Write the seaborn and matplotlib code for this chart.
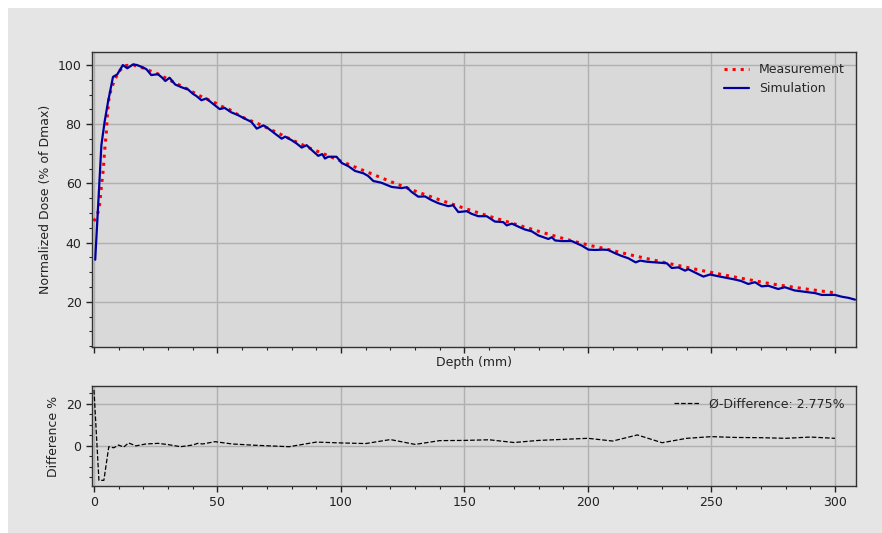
import matplotlib
matplotlib.use("Agg")
import matplotlib.pyplot as plt
from matplotlib.patches import Rectangle
from matplotlib.ticker import AutoMinorLocator
import seaborn as sns
import pandas as pd

# ---- data ----
meas_depth = [0, 1.6, 2.3, 3, 3.8, 4.3, 5, 5.4, 6.1, 7, 8.4, 10, 12.4, 16, 19.5, 22.8,
              25.9, 29.3, 32.4, 35.6, 38.7, 41.8, 45, 48.2, 51.5, 54.7, 57.9, 61.3,
              67.5, 74, 80.4, 86.8, 93.5, 100, 106.6, 113.1, 119.8, 126.6, 130,
              139.7, 149.9, 159.9, 170.2, 180.4, 190.7, 200.8, 204.4, 218.4, 232.3,
              246.3, 260.3, 274.4, 288.3, 300]
meas_dose = [47.2, 50.1, 53, 59, 65, 71, 77, 83, 89, 92, 95, 97.7, 99.8, 100, 99.1, 98,
             97, 95.5, 94.1, 92.8, 91.5, 90, 88.7, 87.6, 86.1, 85, 83.4, 81.9,
             79.8, 77.2, 74.6, 72.1, 69.8, 67.5, 65.2, 63, 60.7, 58.5, 57.4,
             54.5, 51.6, 48.9, 46.3, 43.7, 41.2, 39, 38.4, 35.6, 33,
             30.5, 28.2, 26, 24.3, 23]

sim_depth = [0.5, 3, 4.3, 5.7, 7.7, 9.4, 11.7, 13.5, 15.8, 17.4, 19.5, 21.2, 23.2, 25.9,
             27.5, 28.9, 30.6, 32.9, 36, 38, 40, 41.5, 43.5, 45.5, 48, 50.9, 52.9, 55.6,
             58, 61, 63.7, 65.9, 68.6, 70.5, 73.3, 76, 77.4, 80, 82, 84.1, 86.1, 88.5,
             90.8, 92.4, 93.5, 94.9, 98.2, 100.3, 103, 105.7, 109.1, 111, 113.1, 116.4,
             120.5, 124.5, 126.6, 128.6, 131.3, 134, 136.5, 139.4, 143.4, 145.4, 147.5,
             150.9, 152.9, 155.6, 159, 162.3, 165.7, 167.1, 169.2, 172, 174.5, 177.2,
             179.9, 184, 185.3, 186.7, 189.4, 193.4, 197.4, 200.2, 202.9, 206.3, 208.2,
             210.9, 213.5, 216.3, 219.3, 221.1, 224, 227.2, 231.9, 233.9, 236.6, 239.3,
             240.6, 243.5, 246.7, 249.4, 253.4, 256.5, 259.5, 262, 264.9, 267.6, 270.3,
             273, 277, 279.7, 283.7, 286.5, 289.2, 292, 294.6, 300, 302.7, 305.5, 308.1]
sim_dose = [34.2, 72.9, 80.8, 87.6, 96, 96.8, 100, 98.9, 100.2, 100, 99.3, 98.6, 96.6, 96.9,
            95.8, 94.6, 95.7, 93.4, 92.3, 91.8, 90.3, 89.5, 88.1, 88.7, 87, 85.1, 85.5, 84,
            83.2, 81.9, 80.8, 78.5, 79.6, 78.6, 76.8, 75.1, 75.8, 74.6, 73.5, 72.1, 72.9, 71,
            69.3, 69.9, 68.4, 69, 69, 66.9, 65.8, 64.2, 63.4, 62.5, 60.8, 60.2,
            58.8, 58.4, 58.7, 57.1, 55.5, 55.6, 54.4, 53.3, 52.3, 52.6, 50.3,
            50.6, 49.7, 48.9, 48.9, 47.1, 46.9, 45.8, 46.4, 45.3, 44.4, 43.8,
            42.4, 41.2, 41.8, 40.7, 40.5, 40.5, 39, 37.6, 37.5, 37.6, 37.5,
            36.4, 35.5, 34.7, 33.3, 33.9, 33.5, 33.3, 33, 31.4, 31.6, 30.5,
            31, 29.8, 28.5, 29.2, 28.5, 28, 27.5, 27, 26, 26.6, 25.2,
            25.4, 24.3, 24.9, 23.8, 23.5, 23.2, 22.9, 22.3, 22.3, 21.7, 21.3, 20.7]

diff_depth = [0, 2, 4, 6, 8, 10, 12, 14, 17, 21, 26, 30, 35, 40, 42, 44, 49, 56, 65, 79,
              90, 100, 110, 120, 130, 140, 150, 160, 170, 180, 190, 200, 210, 220, 230,
              240, 250, 260, 270, 280, 290, 300]
diff_pct = [26.5, -16.5, -16.5, -0.5, -1, 0.3, -0.7, 1.3, -0.1, 0.8, 1.1, 0.5, -0.5, 0.3,
            1.1, 0.8, 1.9, 0.8, 0.2, -0.5, 1.7, 1.3, 1, 2.9, 0.6, 2.4, 2.5, 2.8, 1.5, 2.5,
            3, 3.5, 2.2, 5.1, 1.4, 3.5, 4.3, 3.9, 3.8, 3.5, 4.1, 3.5]
mean_diff = 2.775

df_meas = pd.DataFrame({"depth": meas_depth, "dose": meas_dose})
df_sim = pd.DataFrame({"depth": sim_depth, "dose": sim_dose})
df_diff = pd.DataFrame({"depth": diff_depth, "diff": diff_pct})

sns.set_theme(style="whitegrid")
plt.rcParams.update({
    "font.family": ["DejaVu Sans"],
    "font.size": 9,
    "axes.facecolor": "#d9d9d9",
    "axes.edgecolor": "#333333",
    "axes.linewidth": 1.0,
    "grid.color": "#b0b0b0",
    "grid.linewidth": 1.0,
    "xtick.bottom": True,
    "ytick.left": True,
    "xtick.color": "#222222",
    "ytick.color": "#222222",
    "xtick.labelsize": 9,
    "ytick.labelsize": 9,
    "axes.labelsize": 9,
    "axes.labelcolor": "#222222",
    "legend.fontsize": 9,
})

fig = plt.figure(figsize=(8.82, 5.33), dpi=100)
fig.patch.set_facecolor("white")
fig.patches.append(Rectangle((8 / 882, 0), 1, 1 - 8 / 533, transform=fig.transFigure,
                             facecolor="#e5e5e5", edgecolor="none", zorder=-10))

W, H = 882, 533
ax1 = fig.add_axes([92 / W, 1 - 347 / H, (856 - 92) / W, (347 - 52) / H])
ax2 = fig.add_axes([92 / W, 1 - 486 / H, (856 - 92) / W, (486 - 386) / H], sharex=ax1)

sns.lineplot(data=df_meas, x="depth", y="dose", ax=ax1, color="red", linestyle=":",
             linewidth=2.2, label="Measurement", sort=False)
sns.lineplot(data=df_sim, x="depth", y="dose", ax=ax1, color="#0000a0", linewidth=1.6,
             label="Simulation", sort=False)
sns.lineplot(data=df_diff, x="depth", y="diff", ax=ax2, color="black", linestyle="--",
             linewidth=0.9, label=f"Ø-Difference: {mean_diff}%", sort=False)

ax1.set_xlim(-0.8, 308.5)
ax1.set_ylim(4.7, 104.4)
ax2.set_ylim(-19.2, 28.4)
ax1.set_yticks([20, 40, 60, 80, 100])
ax2.set_yticks([0, 20])
ax1.set_xticks([0, 50, 100, 150, 200, 250, 300])

for ax in (ax1, ax2):
    ax.xaxis.set_minor_locator(AutoMinorLocator(5))
    ax.yaxis.set_minor_locator(AutoMinorLocator(4))
    ax.tick_params(which="major", direction="out", length=4, width=1, color="#222222")
    ax.tick_params(which="minor", direction="out", length=2.5, width=0.8, color="#222222")
    ax.grid(True, which="major")
    ax.grid(False, which="minor")
    for s in ax.spines.values():
        s.set_visible(True)
        s.set_color("#333333")

ax1.tick_params(axis="x", labelbottom=False)
ax1.set_xlabel("Depth (mm)", labelpad=0.5)
ax1.set_ylabel("Normalized Dose (% of Dmax)")
ax2.set_xlabel("")
ax2.set_ylabel("Difference %")

leg1 = ax1.legend(loc="upper right", frameon=False, handlelength=2.0)
leg2 = ax2.legend(loc="upper right", frameon=False, handlelength=2.0)

fig.savefig("out.png", dpi=100, facecolor=fig.get_facecolor())
